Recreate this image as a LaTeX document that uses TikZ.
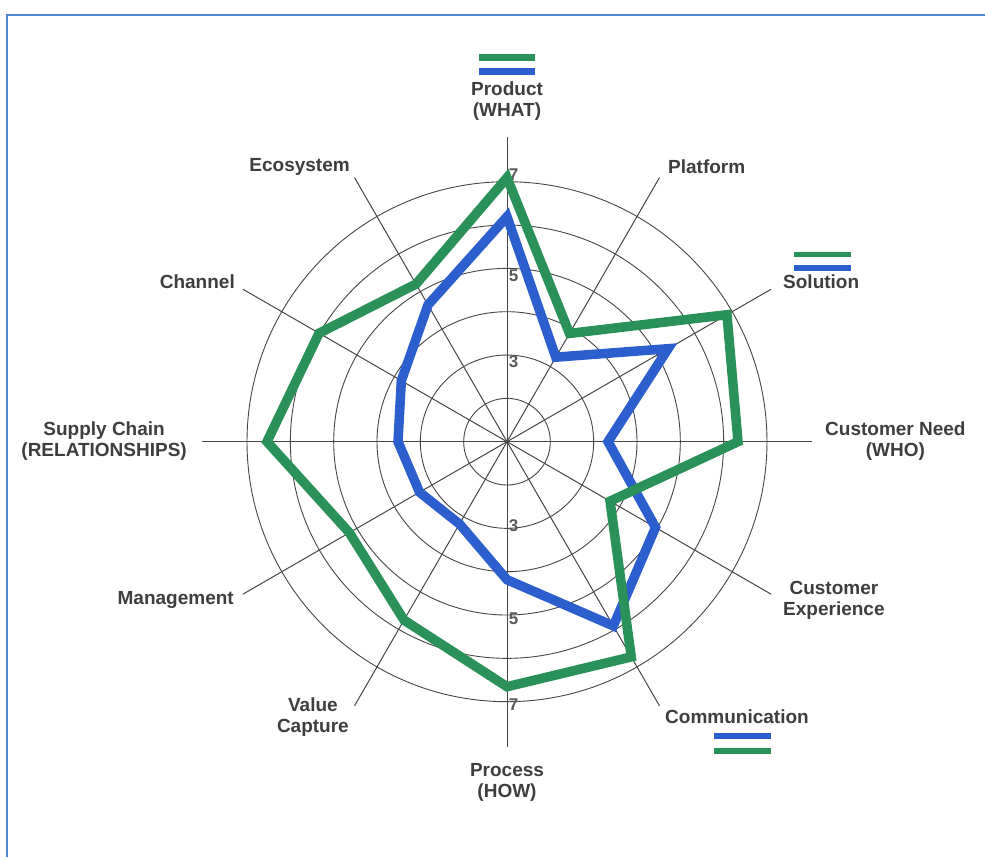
\documentclass[tikz,border=0pt]{standalone}
\usepackage{fontspec}
\setmainfont{Liberation Sans}
\definecolor{radargreen}{RGB}{42,145,88}
\definecolor{radarblue}{RGB}{44,94,206}
\definecolor{frameblue}{RGB}{84,131,212}
\definecolor{labelgray}{RGB}{62,62,62}
\definecolor{gridgray}{RGB}{70,70,70}
\definecolor{tickgray}{RGB}{90,90,90}
\def\rr{43.33pt}
\tikzset{
	axislabel/.style={font=\fontsize{19}{21}\selectfont\bfseries, text=labelgray, inner sep=0pt, align=center},
	ticklabel/.style={font=\fontsize{17}{17}\selectfont\bfseries, text=tickgray, inner sep=0pt},
	spoke/.style={draw=gridgray, line width=1pt},
	ring/.style={draw=gridgray, line width=0.9pt},
	series/.style={line width=9.5pt, line join=miter}
}

\begin{document}
\begin{tikzpicture}[x=1pt,y=1pt]
				\fill[white] (-507,-415.3) rectangle (478,441.7);
				\useasboundingbox (-507,-415.3) rectangle (478,441.7);
				\draw[frameblue, line width=1.6pt] (-500,-415.3) |- (478,426.7);
				
				\coordinate (c) at (0,0);
				\draw[ring] (c) circle (\rr);
				\draw[ring] (c) circle (2*\rr);
				\draw[ring] (c) circle (3*\rr);
				\draw[ring] (c) circle (4*\rr);
				\draw[ring] (c) circle (5*\rr);
				\draw[ring] (c) circle (6*\rr);
				
				\coordinate (eprod) at (90:305);
				\coordinate (eplat) at (60:305);
				\coordinate (esol) at (30:305);
				\coordinate (eneed) at (0:305);
				\coordinate (eexp) at (-30:305);
				\coordinate (ecomm) at (-60:305);
				\coordinate (eproc) at (-90:305);
				\coordinate (evalue) at (-120:305);
				\coordinate (emgmt) at (-150:305);
				\coordinate (esupply) at (180:305);
				\coordinate (echan) at (150:305);
				\coordinate (eeco) at (120:305);
				\draw[spoke] (c) -- (eprod);
				\draw[spoke] (c) -- (eplat);
				\draw[spoke] (c) -- (esol);
				\draw[spoke] (c) -- (eneed);
				\draw[spoke] (c) -- (eexp);
				\draw[spoke] (c) -- (ecomm);
				\draw[spoke] (c) -- (eproc);
				\draw[spoke] (c) -- (evalue);
				\draw[spoke] (c) -- (emgmt);
				\draw[spoke] (c) -- (esupply);
				\draw[spoke] (c) -- (echan);
				\draw[spoke] (c) -- (eeco);
				
				\node[ticklabel] (tthree) at (6.5,79.7) {3};
				\node[ticklabel] (tfive) at (6.5,166.2) {5};
				\node[ticklabel] (tseven) at (6.5,266.7) {7};
				\node[ticklabel] (bthree) at (6.5,-84.3) {3};
				\node[ticklabel] (bfive) at (6.5,-177.3) {5};
				\node[ticklabel] (bseven) at (6.5,-263.3) {7};
				
				\draw[series, radarblue] (90:225) -- (60:97.6) -- (30:186) -- (0:101) -- (-30:171.5) -- (-60:212.7) -- (-90:138) -- (-120:95) -- (-150:101) -- (180:109) -- (150:122) -- (120:158) -- cycle;
				\draw[series, radargreen] (90:264) -- (60:125) -- (30:254) -- (0:231) -- (-30:119) -- (-60:248.5) -- (-90:245) -- (-120:206) -- (-150:182) -- (180:240) -- (150:217) -- (120:182) -- cycle;
				
				\node[axislabel] (product) at (0,340.7) {Product\\(WHAT)};
				\node[axislabel, anchor=west] (platform) at (161,274.7) {Platform};
				\node[axislabel, anchor=west] (solution) at (276,159.7) {Solution};
				\node[axislabel, anchor=west] (need) at (318,0.7) {Customer Need\\(WHO)};
				\node[axislabel, anchor=west] (experience) at (276,-158.3) {Customer\\Experience};
				\node[axislabel, anchor=west] (communication) at (158,-275.3) {Communication};
				\node[axislabel] (process) at (0,-340.3) {Process\\(HOW)};
				\node[axislabel, anchor=east] (valuecap) at (-158,-275.3) {Value\\Capture};
				\node[axislabel, anchor=east] (management) at (-273,-158.3) {Management};
				\node[axislabel, anchor=east] (supply) at (-320,0.7) {Supply Chain\\(RELATIONSHIPS)};
				\node[axislabel, anchor=east] (channel) at (-272,159.7) {Channel};
				\node[axislabel, anchor=east] (ecosystem) at (-157,274.7) {Ecosystem};
				
				\fill[radargreen] (-28,381) rectangle (28,387.4);
				\fill[radarblue] (-28,367) rectangle (28,373.4);
				\fill[radargreen] (287,184.4) rectangle (344,190);
				\fill[radarblue] (287,170.7) rectangle (344,176.7);
				\fill[radarblue] (207,-297.6) rectangle (264,-291.6);
				\fill[radargreen] (207,-312.3) rectangle (264,-306.6);
			\end{tikzpicture}
\end{document}
